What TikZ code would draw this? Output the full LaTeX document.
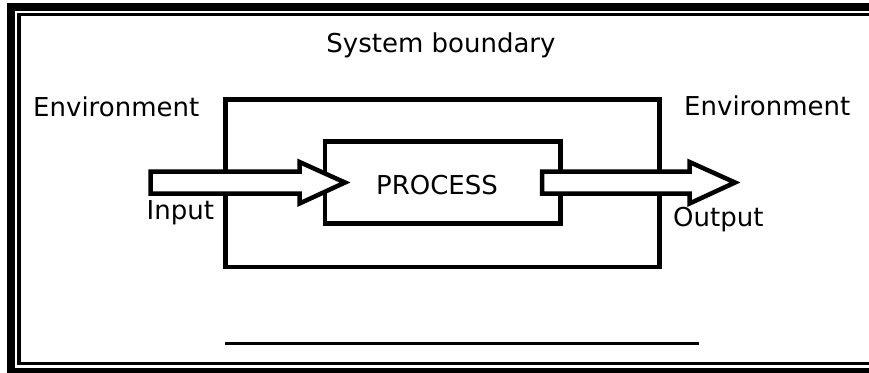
\documentclass[tikz,border=0pt]{standalone}
\usepackage{fontspec}
\setmainfont{DejaVu Sans}
\begin{document}
\begin{tikzpicture}[x=1pt,y=-1pt,
  lbl/.style={inner sep=0pt,font=\fontsize{26}{30}\selectfont},
  boxline/.style={draw=black,line width=4.5pt,line join=miter},
  blockarrow/.style={draw=black,fill=white,line width=4.5pt,line join=miter,miter limit=10}]
\useasboundingbox (0,0) rectangle (869,372);
\clip (0,0) rectangle (869,372);
\fill[white] (0,0) rectangle (869,372);
% frame
\draw[line width=8pt] (11,7.2) rectangle (890,371.7);
\draw[line width=3.5pt] (19,14.7) rectangle (880,363.7);
% system boundary box
\node[boxline,minimum width=434pt,minimum height=167.5pt,inner sep=0pt] (sysb) at (442.5,183.25) {};
% process box
\node[boxline,minimum width=235.5pt,minimum height=82pt,inner sep=0pt] (proc) at (442.75,182.5) {};
% arrows
\draw[blockarrow] (150.5,171.5) -- (299.5,171.5) -- (299.5,162) -- (345,182.5)
  -- (299.5,203.5) -- (299.5,193.5) -- (150.5,193.5) -- cycle;
\draw[blockarrow] (542,171.5) -- (689.5,171.5) -- (689.5,162) -- (735,182.5)
  -- (689.5,203.5) -- (689.5,193.5) -- (542,193.5) -- cycle;
% bottom line
\draw[line width=3.5pt] (225,343.5) coordinate (bl) -- (699,343.5) coordinate (br);
% labels
\node[lbl,anchor=base] (sys) at (441,52) {System boundary};
\node[lbl,anchor=base west] (envl) at (33,116.5) {Environment};
\node[lbl,anchor=base west] (envr) at (684,115.5) {Environment};
\node[lbl,anchor=base] (ptext) at (437,194) {PROCESS};
\node[lbl,anchor=base west] (inp) at (146.5,219) {Input};
\node[lbl,anchor=base west] (outp) at (673,226.5) {Output};
\end{tikzpicture}
\end{document}
